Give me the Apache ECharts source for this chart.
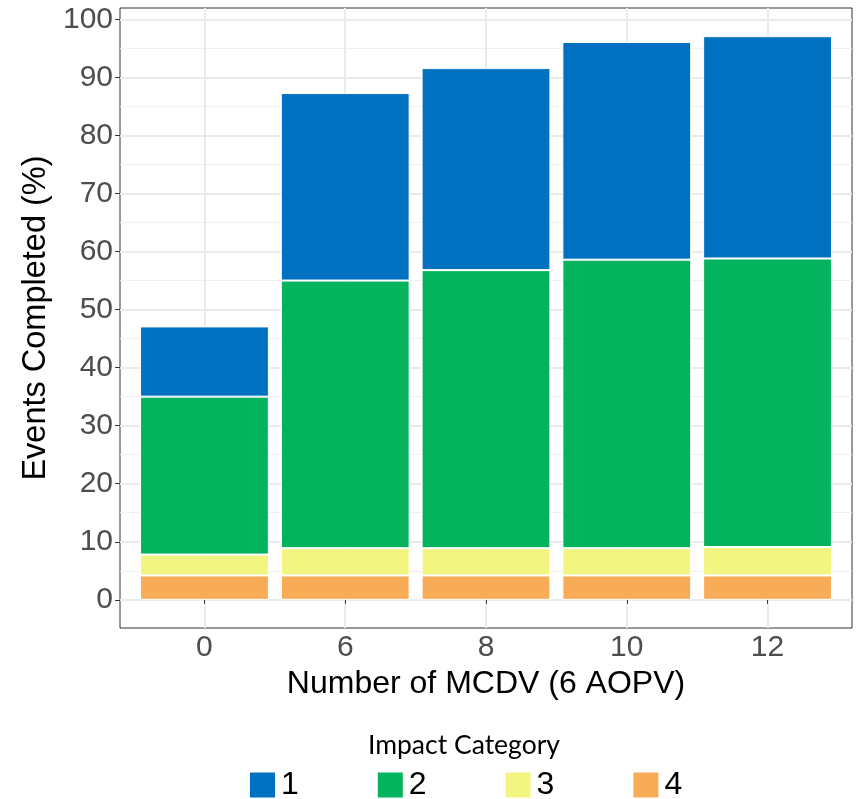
<!DOCTYPE html>
<html>
<head>
<meta charset="utf-8">
<script src="https://cdn.jsdelivr.net/npm/echarts@6/dist/echarts.min.js"></script>
<style>html,body{margin:0;padding:0;background:#fff;}#chart{width:858px;height:799px;}</style>
</head>
<body>
<div id="chart"></div>
<script>
const categories = ['0', '6', '8', '10', '12'];
const cat1 = [12.1, 32.3, 34.8, 37.5, 38.3];
const cat2 = [27.2, 46.1, 47.9, 49.7, 49.7];
const cat3 = [3.6, 4.7, 4.7, 4.7, 4.9];
const cat4 = [4.2, 4.2, 4.2, 4.2, 4.2];
const yTicks = [0, 10, 20, 30, 40, 50, 60, 70, 80, 90, 100];
const yMinorTicks = [5, 15, 25, 35, 45, 55, 65, 75, 85, 95];
const seriesNames = ['1', '2', '3', '4'];
const colors = { '1': '#0070C0', '2': '#04B35E', '3': '#F2F57F', '4': '#F9AC58' };

const xPos = categories.map((c, i) => i + 1);
const totals = categories.map((c, i) => cat1[i] + cat2[i] + cat3[i] + cat4[i]);
const maxTotal = Math.max.apply(null, totals);
const yMin = -0.05 * maxTotal, yMax = maxTotal * 1.05;

// panel in pixels; discrete x range is 0.4..5.6 (ggplot expansion), bands cover 0.5..5.5
const P = { left: 120, right: 852, top: 8, bottom: 628, W: 858, H: 799 };
const unit = (P.right - P.left) / 5.2;
const bandLeft = P.left + 0.1 * unit, bandRight = P.right - 0.1 * unit;

const font = 'Liberation Sans, Arial, sans-serif';
const chart = echarts.init(document.getElementById('chart'), null, { renderer: 'canvas' });

function mk(name, vals) {
  return {
    name: name, type: 'bar', stack: 'all', barWidth: '91.5%',
    xAxisIndex: 1, yAxisIndex: 2,
    itemStyle: { color: colors[name], borderColor: '#ffffff', borderWidth: 1 },
    data: vals
  };
}

chart.setOption({
  animation: false,
  backgroundColor: '#ffffff',
  title: {
    text: 'Impact Category', left: 368, top: 732, padding: 0,
    textStyle: { fontFamily: 'Lato, Open Sans, sans-serif', fontWeight: 'normal', fontSize: 26.5, color: '#000' }
  },
  legend: {
    data: seriesNames, left: 248, top: 769, padding: 0, icon: 'rect', itemWidth: 27, itemHeight: 27, itemGap: 77,
    textStyle: { fontFamily: font, fontSize: 32, color: '#000' }
  },
  grid: [
    { left: P.left, right: P.W - P.right, top: P.top, bottom: P.H - P.bottom, show: true, borderColor: '#333333', borderWidth: 1, backgroundColor: '#fff' },
    { left: bandLeft, right: P.W - bandRight, top: P.top, bottom: P.H - P.bottom, show: false }
  ],
  xAxis: [{
    gridIndex: 0, type: 'value', min: 0.4, max: 5.6,
    name: 'Number of MCDV (6 AOPV)', nameLocation: 'middle', nameGap: 33,
    nameTextStyle: { fontFamily: font, fontSize: 32, color: '#000' },
    axisLine: { show: false },
    axisTick: { show: true, length: 4, customValues: xPos, lineStyle: { color: '#333' } },
    axisLabel: { customValues: xPos, margin: 5, fontFamily: font, fontSize: 30, color: '#4D4D4D',
      formatter: v => categories[Math.round(v) - 1] },
    splitLine: { show: true, lineStyle: { color: '#EBEBEB', width: 2 } }
  }, {
    gridIndex: 1, type: 'category', data: categories, boundaryGap: true,
    axisLine: { show: false }, axisTick: { show: false }, axisLabel: { show: false }, splitLine: { show: false }
  }],
  yAxis: [{
    gridIndex: 0, type: 'value', min: yMin, max: yMax,
    name: 'Events Completed (%)', nameLocation: 'middle', nameGap: 60, nameRotate: 90,
    nameTextStyle: { fontFamily: font, fontSize: 32.5, color: '#000' },
    axisLine: { show: false },
    axisTick: { show: true, length: 5, customValues: yTicks, lineStyle: { color: '#333' } },
    axisLabel: { customValues: yTicks, margin: 7, fontFamily: font, fontSize: 30, color: '#4D4D4D' },
    splitLine: { show: true, lineStyle: { color: '#EBEBEB', width: 2 } }
  }, {
    gridIndex: 0, type: 'value', min: yMin, max: yMax, position: 'left',
    axisLine: { show: false },
    axisTick: { show: false, customValues: yMinorTicks },
    axisLabel: { show: false, customValues: yMinorTicks },
    splitLine: { show: true, lineStyle: { color: '#EFEFEF', width: 1 } }
  }, {
    gridIndex: 1, type: 'value', min: yMin, max: yMax,
    axisLine: { show: false }, axisTick: { show: false }, axisLabel: { show: false }, splitLine: { show: false }
  }],
  series: [mk('4', cat4), mk('3', cat3), mk('2', cat2), mk('1', cat1)]
});
</script>
</body>
</html>
